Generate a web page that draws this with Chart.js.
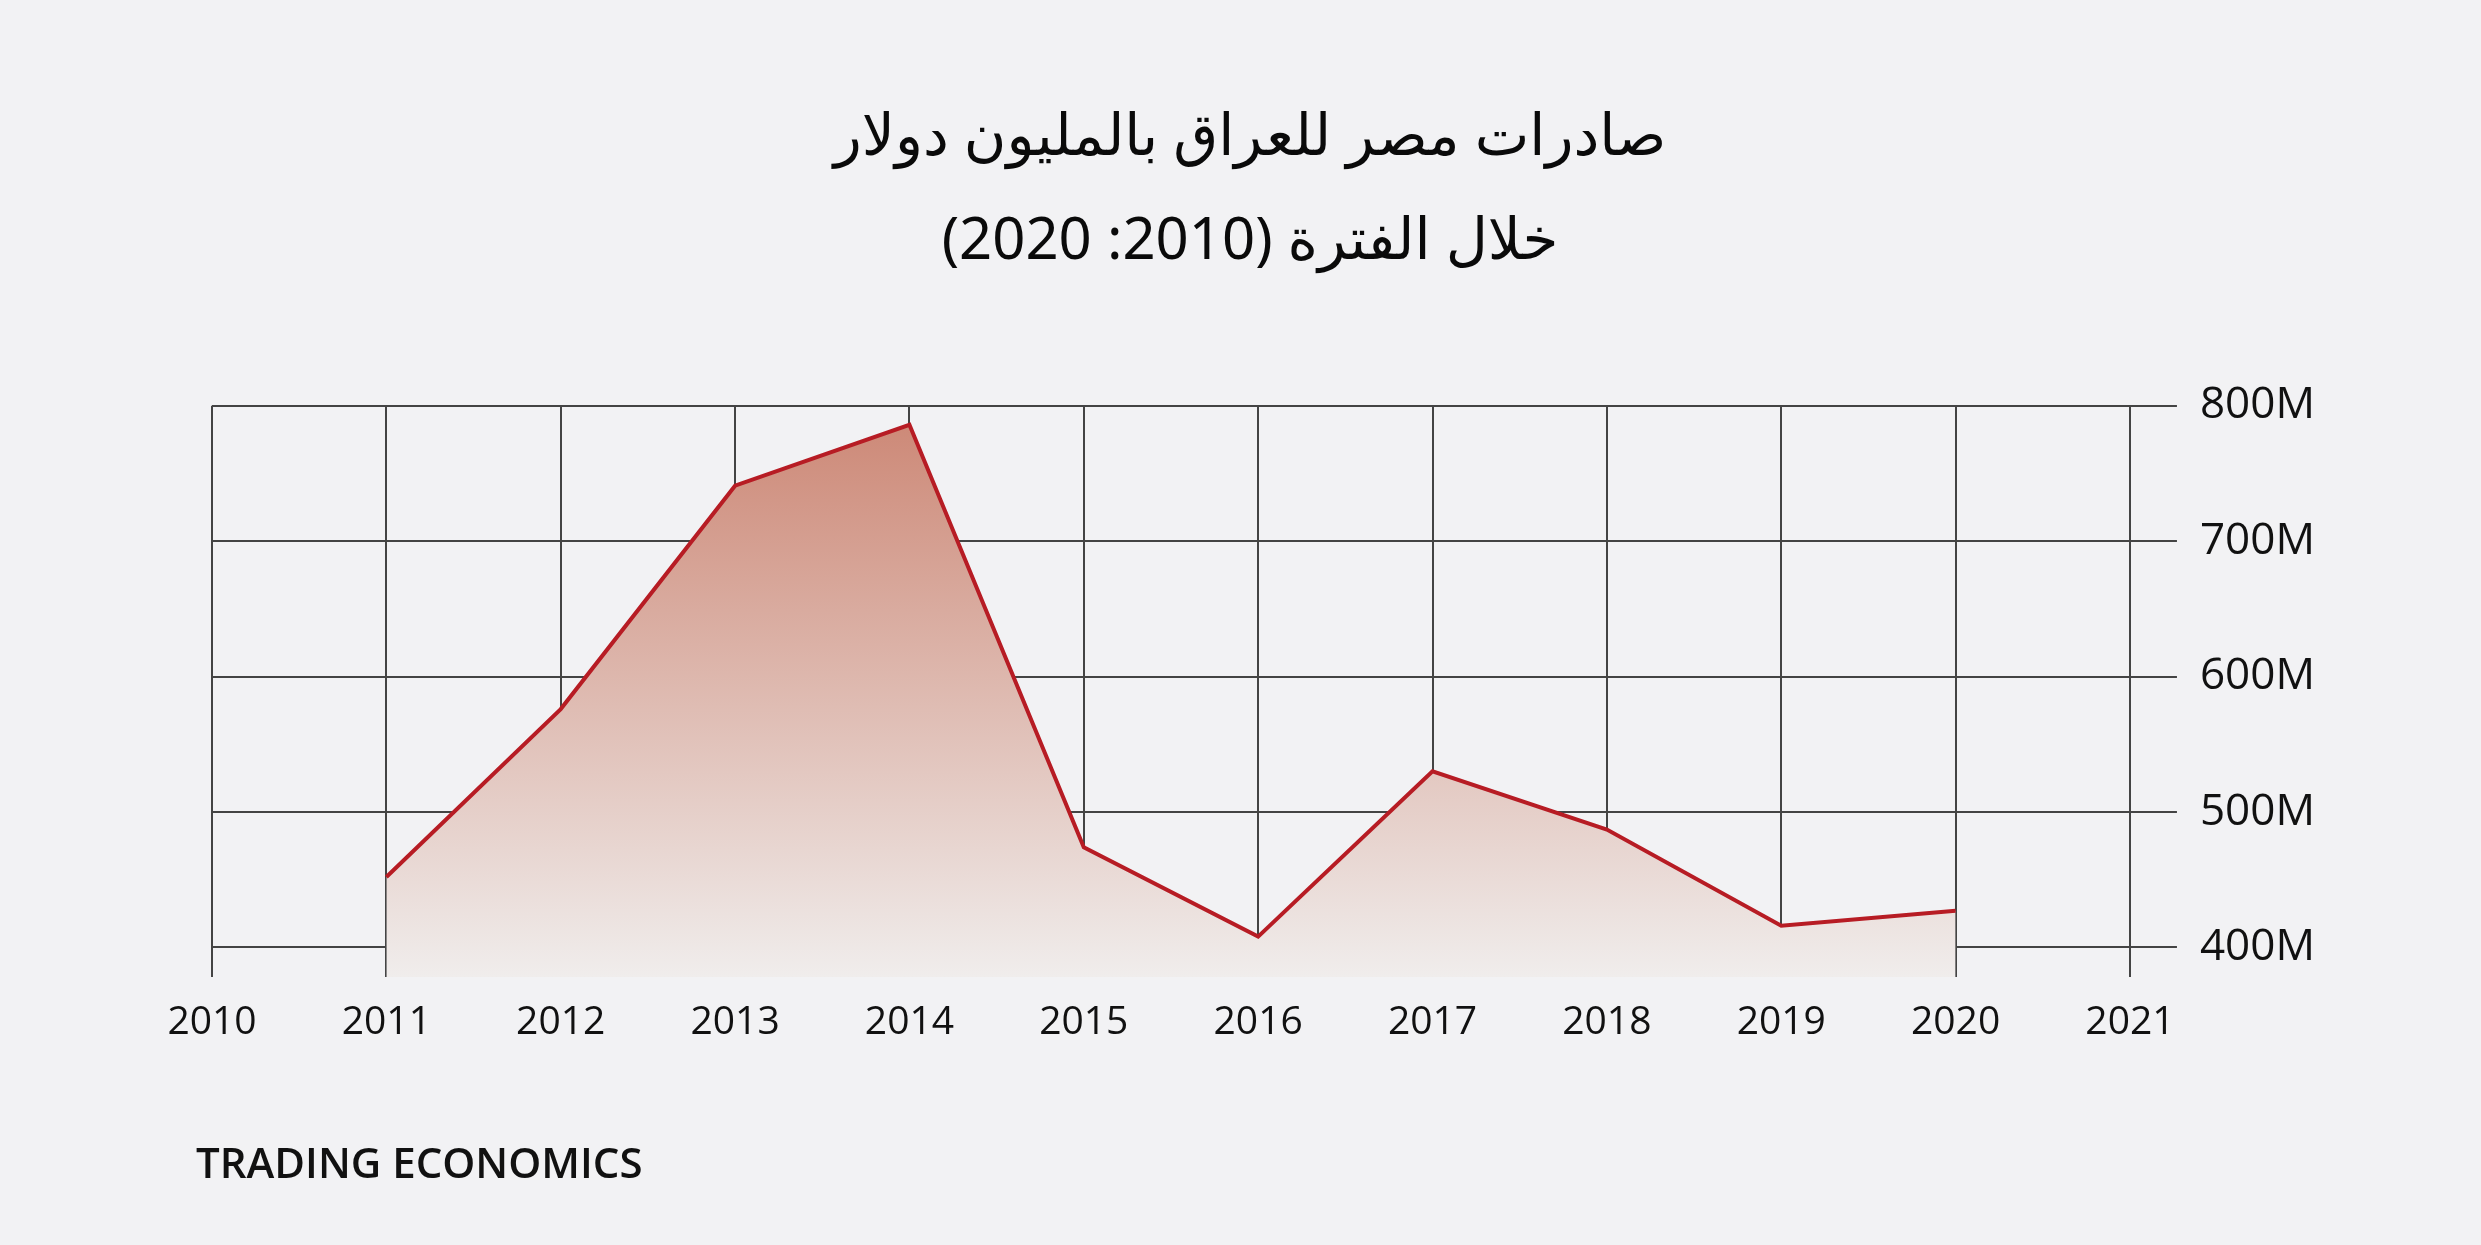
<!DOCTYPE html>
<html>
<head>
<meta charset="utf-8">
<script src="https://cdn.jsdelivr.net/npm/chart.js@4/dist/chart.umd.min.js"></script>
<style>
  html, body { margin: 0; padding: 0; background: #f2f2f4; }
  #wrap { position: relative; width: 2481px; height: 1245px; }
  canvas { display: block; }
  #footer { position: absolute; left: 196px; top: 1133px; font-family: 'Open Sans', sans-serif; font-weight: 600; font-size: 42px; color: #111; letter-spacing: 0px; }
</style>
</head>
<body>
<div id="wrap">
  <canvas id="c" width="2481" height="1245"></canvas>
  <div id="footer">TRADING ECONOMICS</div>
</div>
<script>
const titleLines = ['صادرات مصر للعراق بالمليون دولار', 'خلال الفترة (2010: 2020)'];
const years = [2011, 2012, 2013, 2014, 2015, 2016, 2017, 2018, 2019, 2020];
const exportsMillionUSD = [452, 576, 741, 786, 474, 408, 530, 487, 416, 427];
const yTickValues = [400, 500, 600, 700, 800];
const xRange = [2010, 2021];

const points = years.map((y, i) => ({ x: y, y: exportsMillionUSD[i] }));

const gridColor = '#444444';

new Chart(document.getElementById('c'), {
  type: 'line',
  data: {
    datasets: [{
      data: points,
      borderColor: '#b71c24',
      borderWidth: 4,
      pointRadius: 0,
      tension: 0,
      fill: 'start',
      backgroundColor: (ctx) => {
        const ca = ctx.chart.chartArea;
        if (!ca) return 'rgba(205,138,120,0.6)';
        const g = ctx.chart.ctx.createLinearGradient(0, ca.top, 0, ca.bottom);
        g.addColorStop(0, 'rgb(204,134,116)');
        g.addColorStop(1, 'rgb(240,237,236)');
        return g;
      }
    }]
  },
  options: {
    responsive: false,
    animation: false,
    layout: { padding: { left: 162, right: 143, top: 0, bottom: 177 } },
    plugins: {
      legend: { display: false },
      tooltip: { enabled: false },
      title: {
        display: true,
        text: titleLines,
        color: '#0a0a0a',
        font: { family: "'Noto Sans', 'DejaVu Sans', sans-serif", size: 58, weight: 'normal', lineHeight: 1.8 },
        padding: { top: 86, bottom: 111 }
      }
    },
    scales: {
      x: {
        type: 'linear',
        position: 'bottom',
        min: xRange[0],
        max: xRange[1],
        border: { display: false },
        grid: { color: gridColor, lineWidth: 2, drawTicks: false },
        ticks: {
          stepSize: 1,
          padding: 22,
          color: '#111',
          font: { family: "'Open Sans', sans-serif", size: 39 },
          callback: (v) => String(v),
          maxRotation: 0
        }
      },
      y: {
        type: 'linear',
        position: 'right',
        min: 378,
        max: 800,
        border: { display: false },
        grid: { color: gridColor, lineWidth: 2, drawTicks: true, tickLength: 47 },
        afterBuildTicks: (scale) => { scale.ticks = yTickValues.map(v => ({ value: v })); },
        ticks: {
          padding: 23,
          color: '#111',
          font: { family: "'Open Sans', sans-serif", size: 44 },
          callback: (v) => v + 'M'
        }
      },
      leftGap: {
        type: 'linear',
        position: 'left',
        display: true,
        grid: { display: false },
        border: { display: false },
        ticks: { display: false },
        afterFit: (s) => { s.width = 50; }
      }
    }
  }
});
</script>
</body>
</html>
